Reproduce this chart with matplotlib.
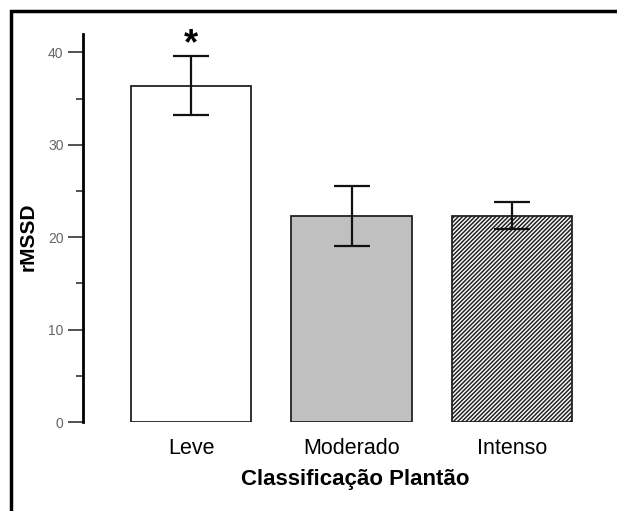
import matplotlib
matplotlib.use("Agg")
import matplotlib.pyplot as plt
from matplotlib.patches import Rectangle
from matplotlib.ticker import MultipleLocator

categories = ["Leve", "Moderado", "Intenso"]
means = [36.4, 22.3, 22.35]
errors = [3.2, 3.2, 1.5]
fills = ["white", "#c0c0c0", "white"]
hatches = [None, None, "////////"]

plt.rcParams['font.family'] = ['Liberation Sans', 'DejaVu Sans']
plt.rcParams['hatch.linewidth'] = 1.1
plt.rcParams['hatch.color'] = '#333333'

fig = plt.figure(figsize=(6.17, 5.11), dpi=100)
ax = fig.add_axes([83/617, 1-422/511, (592-83)/617, (422-34)/511])

x = list(range(len(categories)))
for i in x:
    ax.bar(i, means[i], width=0.75, color=fills[i], edgecolor="#222222",
           linewidth=1.3, hatch=hatches[i], zorder=2)
ax.errorbar(x, means, yerr=errors, fmt='none', ecolor='#111111', elinewidth=1.6,
            capsize=13, capthick=1.6, zorder=3)

ax.text(0, 39.0, "*", ha='center', va='bottom', fontsize=26, fontweight='bold')

ax.set_xlim(-0.675, 2.5)
ax.set_ylim(0, 42)
for s in ['top', 'right', 'bottom']:
    ax.spines[s].set_visible(False)
ax.spines['left'].set_linewidth(2)
ax.spines['left'].set_bounds(0, 42)

ax.yaxis.set_major_locator(MultipleLocator(10))
ax.yaxis.set_minor_locator(MultipleLocator(5))
ax.tick_params(axis='y', which='major', length=11, width=1.2, labelsize=10,
               labelcolor='#666666', color='#333333', pad=3)
ax.tick_params(axis='y', which='minor', length=5, width=1.2, color='#333333')
ax.set_xticks(x)
ax.set_xticklabels(categories, fontsize=15.5)
ax.tick_params(axis='x', length=0, pad=11.5)

ax.set_ylabel("rMSSD", fontsize=15, fontweight='bold')
ax.yaxis.set_label_coords(-0.09, 0.477)
ax.set_xlabel("Classificação Plantão", fontsize=16, fontweight='bold')
ax.xaxis.set_label_coords(0.534, -0.121)

fig.patches.append(Rectangle((11/617, -0.1), 1.2, (1-11/511)+0.1, transform=fig.transFigure,
                             fill=False, edgecolor='black', linewidth=2.5))

fig.savefig("out.png", dpi=100)
